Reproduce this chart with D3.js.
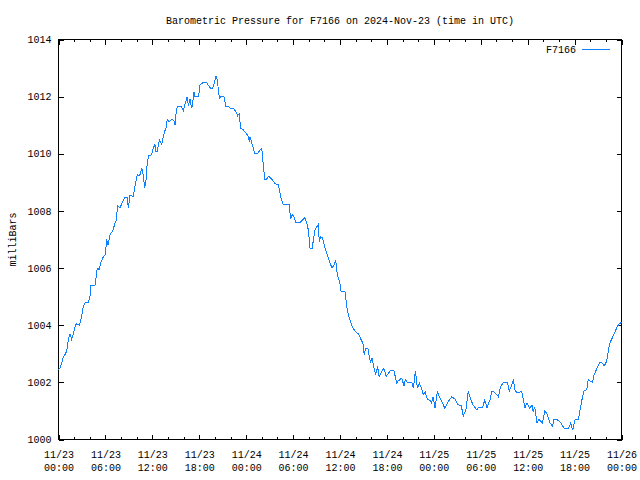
<!DOCTYPE html>
<html>
<head>
<meta charset="utf-8">
<script src="https://cdn.jsdelivr.net/npm/d3@7/dist/d3.min.js"></script>
<style>
  html, body { margin: 0; padding: 0; background: #fff; }
  svg { display: block; }
  text { font-family: "Liberation Mono", "DejaVu Sans Mono", monospace; font-size: 10px; fill: #000; }
</style>
</head>
<body>
<script>
// ---- data (hours after 2024-11-23 00:00 UTC, pressure in mb) ----
const hours = [
  0.0, 0.2, 0.6, 1.05, 1.26, 1.47, 1.69, 2.24, 2.66, 2.96, 3.17, 3.39, 3.81, 4.03, 4.12, 4.67, 4.88, 4.97, 5.2, 5.4,
  5.65, 5.95, 6.08, 6.16, 6.33, 6.59, 6.93, 7.23, 7.44, 7.52, 7.86, 8.2, 8.5, 8.8, 8.93, 9.14, 9.57, 9.78, 10.08, 10.4,
  10.64, 10.85, 11.02, 11.2, 11.36, 11.53, 11.9, 12.13, 12.33, 12.47, 12.62, 12.9, 13.2, 13.4, 13.6, 13.75, 13.9, 14.15, 14.45, 14.75,
  14.9, 15.1, 15.3, 15.7, 15.97, 16.26, 16.47, 16.6, 16.8, 17.03, 17.15, 17.33, 17.46, 17.9, 18.1, 18.52, 18.95, 19.16, 19.46, 19.7,
  19.9, 20.14, 20.3, 20.57, 20.74, 21.16, 21.42, 21.7, 21.95, 22.38, 22.7, 22.9, 23.1, 23.3, 23.6, 23.98, 24.3, 24.4, 24.5, 24.7,
  24.9, 25.13, 25.4, 25.7, 26.0, 26.2, 26.4, 26.6, 26.9, 27.3, 27.7, 28.1, 28.33, 28.5, 28.76, 29.5, 29.7, 29.9, 30.1, 30.33,
  30.9, 31.4, 31.5, 31.7, 31.95, 32.17, 32.45, 32.6, 32.8, 33.2, 33.36, 33.55, 33.75, 34.08, 34.5, 34.8, 35.0, 35.25, 35.45, 35.66,
  35.95, 36.13, 36.64, 36.86, 37.07, 37.37, 37.6, 37.92, 38.34, 38.8, 38.95, 39.1, 39.3, 39.55, 39.75, 39.9, 40.1, 40.26, 40.56, 40.8,
  41.0, 41.6, 41.9, 42.4, 42.9, 43.25, 43.45, 43.9, 44.2, 44.35, 44.6, 45.17, 45.4, 45.64, 45.9, 46.15, 46.4, 46.66, 46.9, 47.17,
  47.5, 47.7, 47.9, 48.15, 48.45, 48.75, 49.0, 49.4, 49.85, 50.3, 50.7, 51.1, 51.5, 51.77, 52.1, 52.4, 52.7, 53.0, 53.5, 53.7,
  54.25, 54.5, 54.8, 55.2, 55.4, 55.6, 56.25, 56.55, 56.9, 57.4, 57.65, 57.95, 58.17, 58.4, 58.8, 59.23, 59.66, 59.9, 60.25, 60.55,
  60.7, 60.9, 61.2, 61.45, 61.9, 62.2, 62.5, 62.85, 63.2, 63.35, 63.7, 64.1, 64.7, 65.2, 65.5, 65.76, 66.06, 66.5, 66.7, 66.95,
  67.2, 67.55, 67.75, 68.0, 68.3, 68.5, 68.8, 69.2, 69.5, 69.8, 70.1, 70.37, 70.55, 70.88, 71.15, 71.46, 71.7, 72.0
];
const pressure = [
  1002.45, 1002.5, 1002.86, 1003.09, 1003.5, 1003.7, 1003.5, 1004.05, 1004.0, 1004.3, 1004.66, 1004.78, 1004.8, 1005.0, 1005.4, 1005.4, 1005.83, 1006.0, 1005.95, 1006.18,
  1006.35, 1006.47, 1006.76, 1007.0, 1006.8, 1007.17, 1007.3, 1007.57, 1007.7, 1008.2, 1008.1, 1008.33, 1008.47, 1008.47, 1008.1, 1008.56, 1008.5, 1008.86, 1009.26, 1009.25,
  1009.5, 1009.26, 1008.8, 1009.1, 1009.73, 1009.93, 1009.96, 1010.2, 1010.33, 1010.08, 1010.08, 1010.49, 1010.33, 1010.6, 1010.8, 1010.9, 1011.2, 1011.12, 1011.2, 1011.17,
  1011.0, 1011.59, 1011.67, 1011.67, 1011.5, 1011.82, 1012.0, 1011.67, 1011.93, 1011.59, 1011.76, 1012.17, 1012.0, 1012.0, 1012.41, 1012.5, 1012.5, 1012.4, 1012.29, 1012.29,
  1012.45, 1012.72, 1012.6, 1011.94, 1012.0, 1012.0, 1011.63, 1011.67, 1011.59, 1011.59, 1011.47, 1011.33, 1011.4, 1010.89, 1010.85, 1010.72, 1010.6, 1010.43, 1010.6, 1010.4,
  1010.2, 1010.0, 1010.0, 1010.1, 1010.2, 1009.55, 1009.11, 1009.11, 1009.22, 1009.1, 1008.95, 1008.92, 1008.62, 1008.4, 1008.21, 1008.21, 1007.71, 1007.88, 1007.8, 1007.6,
  1007.6, 1007.74, 1007.78, 1007.62, 1007.34, 1006.7, 1006.7, 1006.99, 1007.34, 1007.52, 1006.93, 1007.1, 1007.05, 1006.7, 1006.35, 1006.12, 1006.0, 1006.12, 1006.29, 1005.77,
  1005.53, 1005.18, 1005.18, 1004.66, 1004.37, 1004.1, 1003.93, 1003.79, 1003.7, 1003.44, 1003.33, 1002.97, 1003.2, 1003.2, 1002.91, 1002.68, 1002.85, 1002.62, 1002.27, 1002.56,
  1002.21, 1002.5, 1002.21, 1002.4, 1002.4, 1001.98, 1002.05, 1002.15, 1001.86, 1002.1, 1002.0, 1002.0, 1001.8, 1002.41, 1001.8, 1001.98, 1001.8, 1001.57, 1001.67, 1001.4,
  1001.37, 1001.28, 1001.5, 1001.1, 1001.69, 1001.47, 1001.33, 1001.1, 1001.33, 1001.5, 1001.41, 1001.22, 1001.19, 1000.82, 1001.05, 1001.69, 1001.41, 1001.22, 1001.03, 1001.12,
  1001.12, 1001.38, 1001.12, 1001.4, 1001.69, 1001.69, 1001.5, 1001.86, 1002.0, 1002.0, 1001.7, 1001.9, 1002.1, 1001.69, 1001.63, 1001.69, 1001.1, 1001.28, 1001.1, 1001.2,
  1000.98, 1001.15, 1000.58, 1000.7, 1000.58, 1001.01, 1000.87, 1000.58, 1000.46, 1000.7, 1000.7, 1000.64, 1000.37, 1000.37, 1000.58, 1000.32, 1000.7, 1000.7, 1001.05, 1001.4,
  1001.69, 1001.75, 1002.1, 1002.05, 1002.0, 1002.27, 1002.45, 1002.68, 1002.68, 1002.58, 1002.74, 1003.2, 1003.4, 1003.59, 1003.75, 1003.96, 1004.05, 1004.1
];
const yTicks = [1000, 1002, 1004, 1006, 1008, 1010, 1012, 1014];
const seriesName = "F7166";
const titleText = "Barometric Pressure for F7166 on 2024-Nov-23 (time in UTC)";
const yLabel = "milliBars";
const startTime = Date.UTC(2024, 10, 23, 0, 0);
const endTime = Date.UTC(2024, 10, 26, 0, 0);

// ---- layout ----
const W = 640, H = 480;
const L = 58.5, R = 621.5, T = 39.5, B = 439.5;
const lineColor = "#1080ff";

const svg = d3.select("body").append("svg").attr("width", W).attr("height", H);

const x = d3.scaleUtc().domain([new Date(startTime), new Date(endTime)]).range([L, R]);
const y = d3.scaleLinear().domain([1000, 1014]).range([B, T]);

const data = hours.map((h, i) => ({ t: new Date(startTime + h * 3600e3), v: pressure[i] }));

const majors = d3.utcHour.every(6).range(new Date(startTime), new Date(endTime + 1));
const minors = d3.utcHour.every(2).range(new Date(startTime), new Date(endTime + 1))
  .filter(d => d.getUTCHours() % 6 !== 0);

function clean(g) {
  g.select(".domain").remove();
  g.selectAll("line").attr("stroke", "#000").attr("shape-rendering", "crispEdges");
  g.selectAll("text").attr("fill", "#000").attr("font-size", null).attr("font-family", null);
  g.attr("font-size", null).attr("font-family", null);
}

// minor x ticks bottom/top
svg.append("g").attr("transform", `translate(0,${B})`)
  .call(d3.axisBottom(x).tickValues(minors).tickSize(-2.5).tickFormat(""))
  .call(clean);
svg.append("g").attr("transform", `translate(0,${T})`)
  .call(d3.axisTop(x).tickValues(minors).tickSize(-2.5).tickFormat(""))
  .call(clean);

// major x ticks bottom with 2-line labels
const fmtDate = d3.utcFormat("%m/%d"), fmtTime = d3.utcFormat("%H:%M");
const xb = svg.append("g").attr("transform", `translate(0,${B})`)
  .call(d3.axisBottom(x).tickValues(majors).tickSize(-5).tickFormat(""))
  .call(clean);
xb.selectAll(".tick").each(function(d) {
  const t = d3.select(this).append("text").attr("text-anchor", "middle");
  t.append("tspan").attr("x", 0).attr("y", 18.5).text(fmtDate(d));
  t.append("tspan").attr("x", 0).attr("y", 31.5).text(fmtTime(d));
});
svg.append("g").attr("transform", `translate(0,${T})`)
  .call(d3.axisTop(x).tickValues(majors).tickSize(-5).tickFormat(""))
  .call(clean);

// y ticks
svg.append("g").attr("transform", `translate(${L},0)`)
  .call(d3.axisLeft(y).tickValues(yTicks).tickSize(-5).tickPadding(7).tickFormat(d3.format("d")))
  .call(clean);
svg.append("g").attr("transform", `translate(${R},0)`)
  .call(d3.axisRight(y).tickValues(yTicks).tickSize(-5).tickFormat(""))
  .call(clean);

// frame
svg.append("rect").attr("x", L).attr("y", T).attr("width", R - L).attr("height", B - T)
  .attr("fill", "none").attr("stroke", "#000").attr("stroke-width", 1).attr("shape-rendering", "crispEdges");

// data line
svg.append("path").datum(data)
  .attr("d", d3.line().x(d => x(d.t)).y(d => y(d.v)))
  .attr("fill", "none").attr("stroke", lineColor).attr("stroke-width", 1)
  .attr("shape-rendering", "crispEdges");

// title
svg.append("text").attr("x", (L + R) / 2).attr("y", 23.5).attr("text-anchor", "middle").text(titleText);

// y label
svg.append("text").attr("transform", `translate(15.5,${(T + B) / 2}) rotate(-90)`)
  .attr("text-anchor", "middle").text(yLabel);

// legend
svg.append("text").attr("x", 576).attr("y", 53).attr("text-anchor", "end").text(seriesName);
svg.append("line").attr("x1", 582).attr("x2", 610).attr("y1", 49.5).attr("y2", 49.5)
  .attr("stroke", lineColor).attr("stroke-width", 1).attr("shape-rendering", "crispEdges");
</script>
</body>
</html>
